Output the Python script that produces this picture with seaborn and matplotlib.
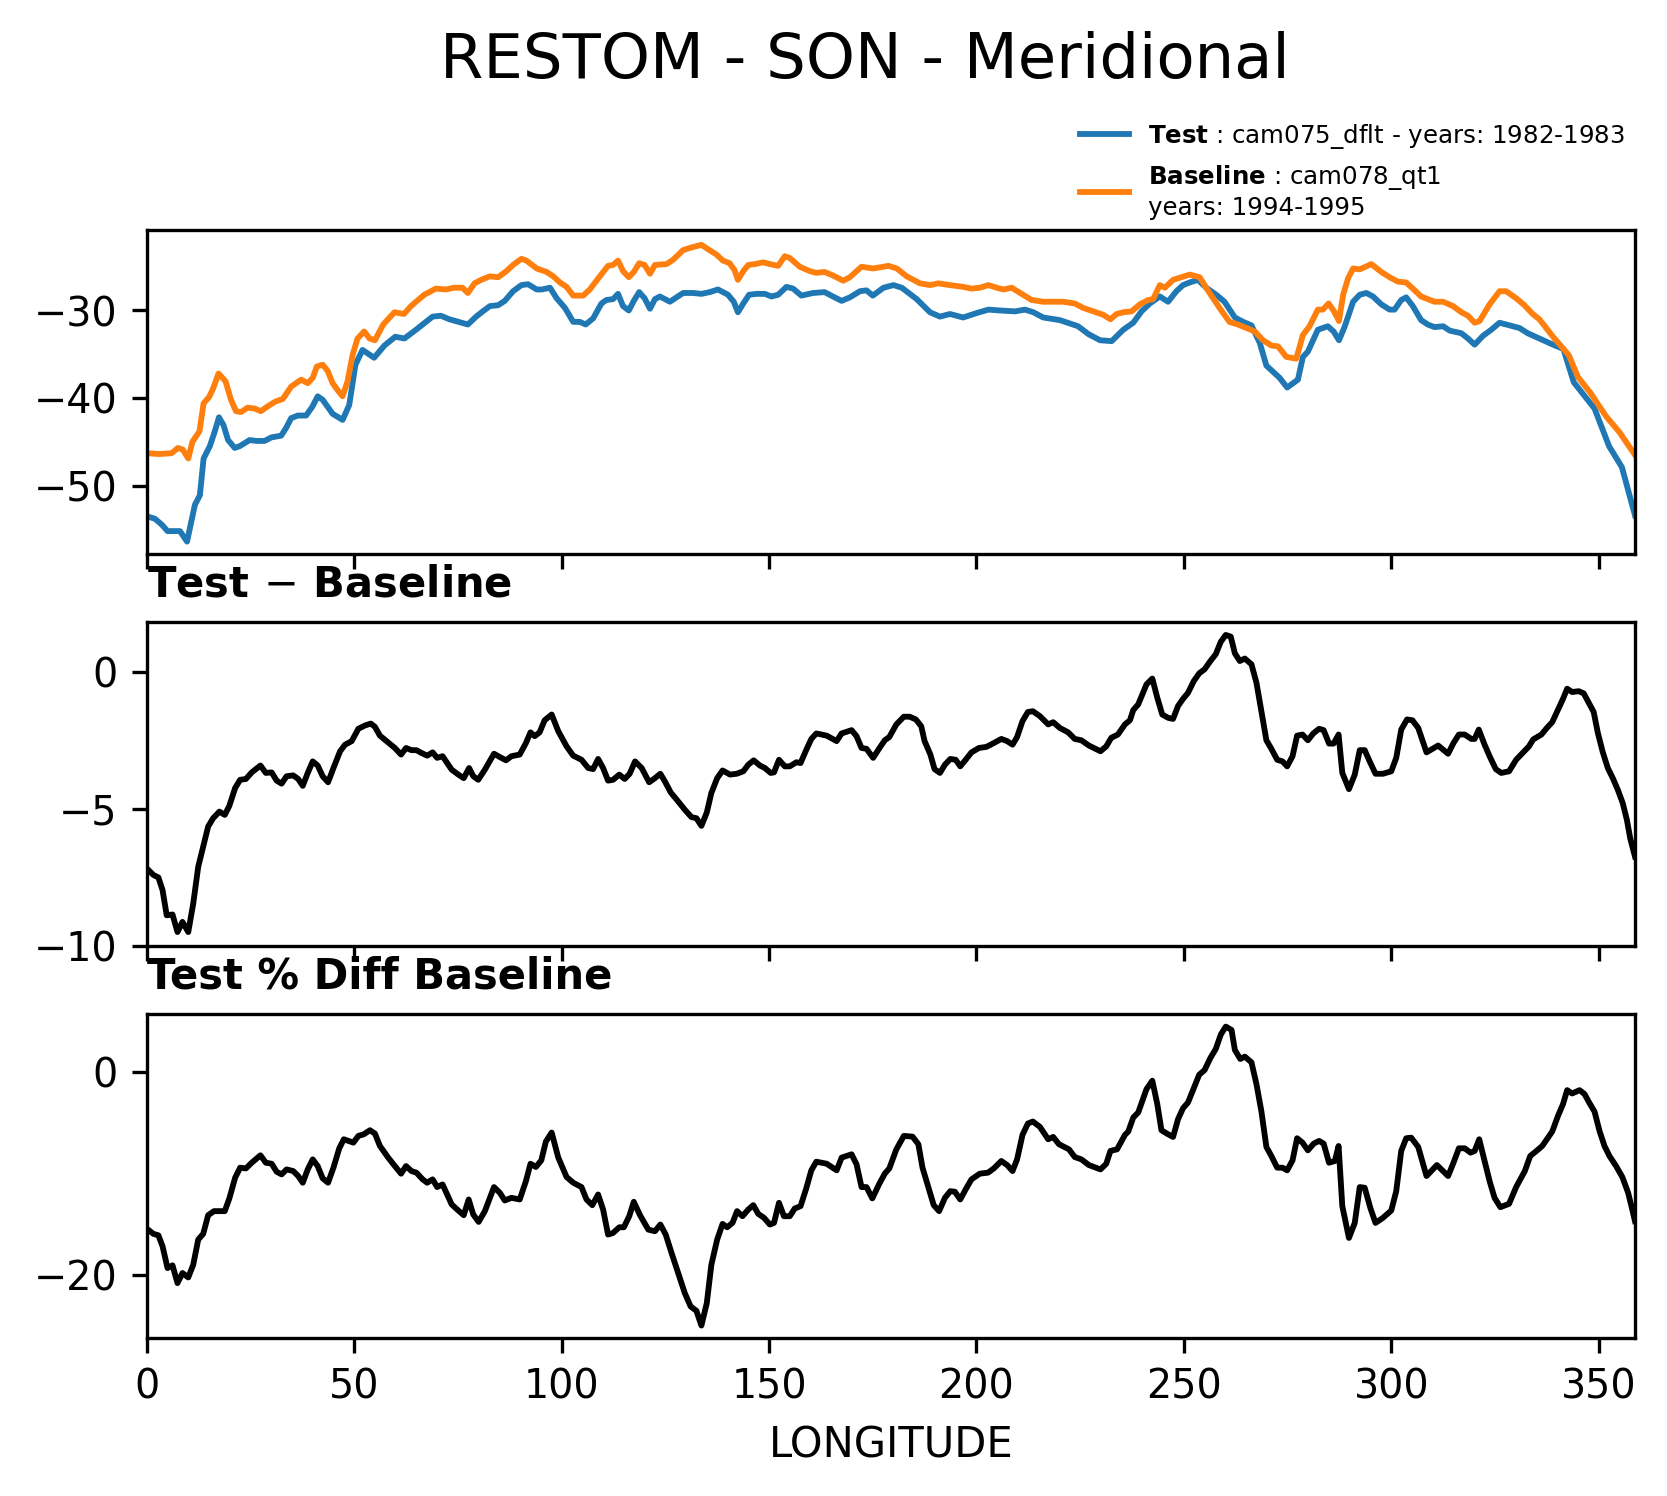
import numpy as np
import seaborn as sns
import matplotlib
matplotlib.use("Agg")
import matplotlib.pyplot as plt

# values (longitude in degrees east)
lon_test = [0, 2, 3.7, 5, 8, 9.7, 11.6, 12.8, 13.7, 15.2, 16.4, 17.4, 18.5, 19.6, 21.2, 22.4,
            24.8, 26.4, 28.4, 30, 32.4, 33.6, 34.8, 36.4, 38.4, 39.9, 41.2, 42.4, 44.8, 47.2,
            48.8, 50.3, 52, 54.8, 57.3, 59.9, 62.1, 64.9, 68.9, 70.9, 72.9, 77.4, 79.4, 81,
            82.7, 84.7, 86.3, 88.3, 90.3, 91.9, 94, 95.2, 97.2, 98.8, 100.8, 102.8, 104.4,
            105.8, 107.6, 109.6, 110.8, 112.4, 113.6, 114.8, 116.2, 117.4, 118.7, 120, 121.3,
            122.5, 123.7, 126.1, 127.7, 129.3, 131.7, 133.7, 135.7, 137.7, 140.1, 141.5, 142.5,
            143.8, 145.2, 147, 149, 150.6, 152.2, 154.2, 155.8, 157.8, 160.6, 163.4, 165.4,
            167.5, 169.5, 171.9, 173.5, 175, 177.6, 180, 182, 185.6, 188.8, 191.2, 193.6, 196.8,
            200, 202.9, 205.7, 209.3, 211.7, 213.7, 216.1, 220.1, 224.5, 227, 229.8, 232.6,
            235.4, 237.8, 239.8, 241.8, 244.2, 246.2, 248.2, 249.8, 251.4, 253.4, 255.4, 257.8,
            259.8, 262.3, 264.3, 266.3, 268.3, 269.9, 271.5, 273.1, 274.9, 277.5, 278.7, 279.9,
            282.3, 284.7, 286.1, 287.4, 288.8, 290.8, 292.4, 294, 295.6, 297.6, 299.6, 300.8,
            302.4, 303.6, 305.2, 307.2, 308.8, 310.4, 312.5, 314.1, 316.9, 318.5, 320.1, 322.1,
            324.1, 326.1, 328.5, 330.9, 332.9, 335.7, 338.5, 341.5, 344, 349, 352.5, 355.6,
            358.75]
test = [-53.5, -53.8, -54.5, -55.2, -55.2, -56.4, -52.2, -51.1, -46.9, -45.5, -43.8, -42.2,
        -43.1, -44.8, -45.7, -45.5, -44.8, -44.9, -44.9, -44.5, -44.3, -43.4, -42.3, -42.0,
        -42.0, -41.0, -39.8, -40.2, -41.8, -42.5, -40.8, -36.2, -34.5, -35.4, -34.0, -33.0,
        -33.2, -32.2, -30.7, -30.6, -31.0, -31.6, -30.7, -30.1, -29.5, -29.4, -28.9, -27.8,
        -27.1, -27.0, -27.6, -27.6, -27.4, -28.6, -29.7, -31.3, -31.3, -31.6, -30.9, -29.2,
        -28.8, -28.7, -28.1, -29.5, -30.0, -28.9, -27.9, -28.6, -29.8, -28.7, -28.4, -29.0,
        -28.5, -28.0, -28.0, -28.1, -27.9, -27.6, -28.2, -29.0, -30.2, -29.2, -28.2, -28.1,
        -28.1, -28.4, -28.2, -27.3, -27.5, -28.3, -28.0, -27.9, -28.4, -28.9, -28.5, -27.8,
        -27.7, -28.3, -27.4, -27.1, -27.4, -28.7, -30.2, -30.7, -30.4, -30.8, -30.3, -29.9,
        -30.0, -30.1, -29.9, -30.2, -30.8, -31.1, -31.8, -32.7, -33.4, -33.5, -32.2, -31.4,
        -30.1, -29.2, -28.4, -29.0, -27.8, -27.1, -26.8, -26.5, -27.4, -28.2, -29.0, -30.8,
        -31.3, -31.7, -33.7, -36.3, -37.0, -37.7, -38.8, -37.9, -35.3, -34.7, -32.2, -31.8,
        -32.4, -33.4, -31.8, -29.0, -28.2, -28.0, -28.4, -29.3, -29.9, -29.9, -28.8, -28.5,
        -29.5, -31.1, -31.6, -31.9, -31.8, -32.3, -32.6, -33.2, -33.9, -32.9, -32.2, -31.4,
        -31.7, -32.0, -32.6, -33.2, -33.8, -34.4, -38.2, -41.2, -45.5, -47.9, -53.4]

lon_base = [0, 3, 6, 7.5, 8.7, 10, 11, 12.7, 13.7, 15, 16, 17.3, 19, 20.3, 21.5, 22.7, 24.3,
            26, 27.5, 29, 31, 32.8, 34.8, 37.2, 38.8, 40, 41, 42.4, 43.6, 44.8, 46, 47.2, 48.4,
            49.6, 50.8, 52.4, 53.7, 55, 57, 59.7, 62, 63.7, 64.9, 66.9, 69.7, 72.1, 74.1, 76.1,
            77.4, 79, 80.6, 82.7, 84.7, 86.7, 88.3, 90.3, 91.5, 94, 96.4, 98, 99.6, 101.2,
            102.8, 105.2, 106.8, 109.2, 111.2, 112.4, 113.6, 114.8, 116.2, 117.4, 118.7, 120,
            121.3, 122.5, 125.3, 126.9, 129.3, 131.3, 133.7, 135.3, 137.3, 138.9, 140.5, 141.7,
            142.5, 143.8, 145, 146.6, 148.6, 150.2, 152.2, 153.8, 155, 157.4, 159.8, 161.4,
            163.4, 165.4, 167.9, 169.5, 172.3, 175.1, 178.8, 180.8, 183.2, 186.4, 188.8, 190.8,
            193.6, 196.8, 198.8, 200.8, 202.9, 204.9, 206.5, 208.5, 210.9, 213.3, 216.1, 218.1,
            220.9, 223.7, 225.7, 228.2, 230.6, 232.3, 233.8, 235.4, 237.4, 239.4, 241.4, 242.6,
            244.2, 245.4, 247.4, 249.4, 251.4, 253.8, 256.2, 258.6, 261, 263, 265.1, 267.1,
            269.1, 271.1, 272.7, 274.7, 277.1, 278.7, 280.3, 282.3, 283.5, 284.9, 286.2, 287.4,
            288.4, 289.6, 290.8, 292.4, 295.2, 297.6, 299.6, 301.6, 303.6, 305.2, 307.2, 310.4,
            312.5, 314.9, 316.9, 318.5, 320.1, 321.3, 323.7, 326.1, 327.7, 330.1, 332.1, 334.1,
            335.7, 339, 342.8, 345, 348, 351.8, 355, 358.75]
base = [-46.3, -46.4, -46.3, -45.7, -45.9, -46.9, -45.0, -43.8, -40.6, -39.9, -38.9, -37.2,
        -38.1, -40.2, -41.5, -41.6, -41.1, -41.2, -41.5, -41.0, -40.4, -40.1, -38.7, -37.9,
        -38.3, -37.7, -36.4, -36.2, -36.9, -38.3, -39.1, -39.8, -38.1, -35.1, -33.2, -32.4,
        -33.2, -33.4, -31.6, -30.2, -30.4, -29.5, -29.0, -28.2, -27.5, -27.6, -27.4, -27.4,
        -28.0, -26.9, -26.5, -26.1, -26.2, -25.5, -24.8, -24.1, -24.3, -25.2, -25.6, -26.1,
        -26.8, -27.3, -28.3, -28.3, -27.6, -26.1, -24.9, -24.8, -24.3, -25.5, -26.2, -25.6,
        -24.6, -24.8, -25.8, -24.8, -24.7, -24.2, -23.1, -22.8, -22.5, -23.0, -23.6, -24.3,
        -24.6, -25.4, -26.5, -25.5, -24.8, -24.7, -24.5, -24.7, -24.9, -23.8, -24.0, -25.0,
        -25.5, -25.7, -25.6, -26.0, -26.6, -26.2, -25.0, -25.2, -24.9, -25.2, -26.1, -26.9,
        -27.1, -26.9, -27.1, -27.3, -27.5, -27.4, -27.1, -27.4, -27.6, -27.4, -28.1, -28.8,
        -29.0, -29.0, -29.0, -29.2, -29.7, -30.1, -30.5, -31.0, -30.4, -30.2, -30.1, -29.3,
        -28.8, -28.7, -27.1, -27.4, -26.5, -26.2, -25.9, -26.2, -28.0, -29.7, -31.3, -31.6,
        -32.0, -32.4, -33.4, -34.0, -34.1, -35.3, -35.5, -32.8, -31.8, -29.9, -29.9, -29.2,
        -30.1, -31.2, -28.2, -26.3, -25.2, -25.3, -24.7, -25.6, -26.2, -26.7, -26.8, -27.5,
        -28.4, -29.0, -29.0, -29.5, -30.2, -30.6, -31.4, -31.2, -29.3, -27.8, -27.8, -28.6,
        -29.4, -30.4, -31.0, -33.0, -35.1, -37.6, -39.4, -42.1, -43.9, -46.5]

lon_diff = [0, 1.6, 2.8, 3.8, 4.8, 6.2, 7.4, 8.6, 10.0, 11.2, 12.4, 13.6, 14.8, 16.0, 17.5,
            18.8, 19.9, 21.3, 22.5, 23.9, 25.3, 27.4, 28.7, 30.1, 31.3, 32.5, 33.7, 35.3, 36.5,
            37.6, 38.8, 40.0, 41.2, 42.4, 43.7, 45.0, 46.6, 47.8, 49.4, 51.0, 52.6, 54.0, 55.0,
            56.2, 57.8, 59.8, 61.3, 62.5, 63.8, 65.0, 66.2, 67.6, 68.9, 70.0, 71.3, 73.5, 75.1,
            76.4, 77.7, 78.7, 79.9, 81.5, 83.7, 85.1, 86.6, 87.9, 89.9, 91.4, 92.5, 93.5, 94.7,
            95.9, 97.6, 99.2, 101.2, 102.8, 104.8, 106.4, 107.6, 108.8, 110.0, 111.2, 112.4,
            113.9, 115.2, 116.4, 117.7, 119.3, 121.1, 122.5, 123.8, 124.9, 126.3, 128.1, 129.7,
            131.3, 132.5, 133.7, 135.0, 136.1, 137.5, 138.8, 140.6, 142.2, 143.8, 145.0, 146.3,
            147.8, 149.0, 150.4, 151.2, 152.4, 153.8, 155.0, 156.6, 157.6, 159.0, 160.2, 161.4,
            163.9, 166.3, 167.5, 169.9, 171.1, 172.3, 173.5, 175.1, 176.5, 177.9, 179.0, 180.7,
            182.5, 183.9, 185.4, 186.7, 187.5, 188.9, 189.9, 191.2, 192.4, 193.7, 195.0, 196.1,
            197.4, 198.8, 200.6, 202.4, 204.2, 206.0, 207.4, 208.7, 209.8, 211.1, 212.4, 213.6,
            215.3, 217.3, 218.5, 220.1, 222.1, 223.7, 225.3, 227.1, 229.9, 231.3, 232.5, 234.1,
            235.8, 237.0, 237.8, 239.0, 241.0, 242.4, 243.6, 244.8, 246.2, 247.4, 248.6, 249.8,
            251.0, 252.4, 253.7, 255.0, 256.4, 257.7, 258.9, 260.1, 261.3, 262.3, 263.5, 264.7,
            266.3, 267.5, 268.7, 269.9, 271.1, 272.5, 273.8, 274.9, 276.2, 277.3, 278.6, 279.9,
            281.2, 282.6, 283.7, 285.0, 286.1, 287.3, 288.2, 289.8, 291.2, 292.4, 293.6, 294.8,
            296.2, 298.0, 300.0, 301.2, 302.4, 303.8, 305.1, 306.5, 308.5, 311.3, 313.7, 315.0,
            316.3, 317.7, 319.3, 320.1, 321.1, 322.5, 323.7, 325.2, 326.5, 328.4, 330.1, 331.8,
            333.2, 334.2, 336.2, 337.5, 338.8, 340.2, 341.4, 342.4, 343.6, 345.2, 346.4, 347.7,
            348.8, 349.8, 351.0, 352.2, 353.4, 354.6, 355.8, 356.8, 357.6, 358.75]
diff = [-7.16, -7.40, -7.49, -7.95, -8.87, -8.84, -9.48, -9.11, -9.48, -8.44, -7.10, -6.37,
        -5.63, -5.33, -5.09, -5.21, -4.88, -4.23, -3.93, -3.90, -3.66, -3.41, -3.68, -3.66,
        -3.96, -4.07, -3.80, -3.77, -3.90, -4.15, -3.68, -3.26, -3.41, -3.80, -4.02, -3.50,
        -2.89, -2.65, -2.52, -2.07, -1.95, -1.88, -2.00, -2.32, -2.52, -2.77, -3.01, -2.77,
        -2.85, -2.85, -2.95, -3.05, -2.93, -3.13, -3.07, -3.56, -3.74, -3.87, -3.50, -3.80,
        -3.93, -3.56, -2.98, -3.10, -3.22, -3.07, -3.01, -2.59, -2.20, -2.34, -2.20, -1.76,
        -1.55, -2.16, -2.71, -3.05, -3.20, -3.50, -3.54, -3.17, -3.50, -3.96, -3.93, -3.74,
        -3.90, -3.71, -3.26, -3.50, -4.02, -3.87, -3.71, -3.99, -4.39, -4.72, -5.02, -5.29,
        -5.33, -5.61, -5.12, -4.41, -3.87, -3.59, -3.74, -3.71, -3.62, -3.38, -3.22, -3.41,
        -3.50, -3.68, -3.66, -3.20, -3.44, -3.44, -3.29, -3.32, -2.83, -2.44, -2.24, -2.32,
        -2.52, -2.24, -2.12, -2.34, -2.77, -2.80, -3.13, -2.80, -2.49, -2.37, -1.91, -1.63,
        -1.63, -1.73, -1.98, -2.52, -3.01, -3.54, -3.68, -3.38, -3.17, -3.20, -3.44, -3.20,
        -2.93, -2.77, -2.73, -2.59, -2.44, -2.52, -2.65, -2.37, -1.79, -1.46, -1.43, -1.61,
        -1.91, -1.83, -2.04, -2.20, -2.44, -2.49, -2.68, -2.89, -2.71, -2.40, -2.28, -1.91,
        -1.76, -1.39, -1.18, -0.45, -0.24, -0.94, -1.55, -1.67, -1.71, -1.24, -0.98, -0.76,
        -0.33, -0.05, 0.10, 0.40, 0.65, 1.10, 1.35, 1.29, 0.68, 0.40, 0.49, 0.28, -0.39,
        -1.43, -2.49, -2.80, -3.20, -3.26, -3.44, -3.07, -2.32, -2.28, -2.49, -2.24, -2.07,
        -2.12, -2.61, -2.61, -2.28, -3.68, -4.27, -3.74, -2.85, -2.85, -3.26, -3.71, -3.71,
        -3.62, -3.13, -2.10, -1.73, -1.76, -2.04, -2.93, -2.68, -2.98, -2.59, -2.28, -2.28,
        -2.44, -2.44, -2.10, -2.65, -3.07, -3.54, -3.68, -3.62, -3.20, -2.93, -2.71, -2.46,
        -2.28, -2.04, -1.83, -1.37, -0.98, -0.61, -0.73, -0.70, -0.78, -1.15, -1.46, -2.22,
        -2.93, -3.50, -3.87, -4.29, -4.78, -5.39, -6.06, -6.73]

lon_pct = [0, 1.6, 2.8, 3.8, 5.0, 6.2, 7.4, 8.6, 10.0, 11.2, 12.4, 13.6, 14.8, 16.2, 18.8,
           19.9, 21.3, 22.5, 23.9, 25.3, 27.4, 28.7, 30.1, 31.3, 32.5, 33.7, 35.3, 36.5, 37.6,
           38.8, 40.0, 41.2, 42.4, 43.7, 45.0, 46.4, 47.5, 49.8, 51.0, 52.3, 53.8, 55.0, 56.2,
           58.2, 59.8, 61.3, 62.5, 63.8, 65.0, 66.5, 67.6, 68.9, 70.0, 71.3, 73.5, 75.1, 76.4,
           77.6, 78.7, 80.0, 81.5, 83.7, 85.1, 86.3, 87.9, 89.9, 91.4, 92.5, 93.8, 95.1, 96.2,
           97.6, 99.2, 101.2, 102.8, 104.8, 106.0, 107.4, 108.8, 110.0, 111.2, 112.4, 113.9,
           115.0, 116.3, 117.4, 118.9, 120.9, 122.5, 123.8, 125.1, 126.5, 128.5, 129.7, 131.1,
           132.5, 133.7, 135.0, 136.1, 137.5, 138.8, 139.9, 141.2, 142.3, 143.6, 145.0, 146.2,
           147.4, 148.8, 150.2, 151.2, 152.4, 153.6, 155.0, 156.2, 157.6, 158.9, 160.2, 161.4,
           163.9, 166.3, 167.5, 169.9, 171.1, 172.3, 173.5, 174.9, 176.5, 177.9, 179.0, 180.7,
           182.5, 184.6, 186.0, 187.0, 188.2, 189.7, 191.0, 192.4, 193.7, 194.8, 196.1, 197.4,
           198.8, 200.8, 202.8, 204.2, 206.0, 207.4, 208.7, 209.8, 211.1, 212.4, 213.6, 215.3,
           217.3, 218.5, 219.9, 222.3, 223.7, 225.3, 227.1, 229.9, 231.3, 232.3, 233.9, 235.8,
           236.6, 237.8, 239.0, 241.0, 242.4, 243.6, 244.6, 246.2, 247.4, 248.6, 249.8, 251.0,
           252.4, 253.7, 255.0, 256.4, 257.7, 258.9, 260.1, 261.5, 262.3, 263.6, 264.7, 266.3,
           267.5, 268.7, 269.9, 271.1, 272.5, 273.8, 274.9, 276.2, 277.3, 278.6, 279.9, 281.3,
           282.6, 283.7, 285.0, 286.4, 287.3, 288.2, 289.8, 291.2, 292.4, 293.6, 295.0, 296.2,
           298.0, 300.0, 301.2, 302.4, 303.6, 304.8, 306.5, 308.5, 311.0, 313.7, 315.0, 316.3,
           317.7, 319.1, 320.1, 321.2, 322.5, 323.7, 324.9, 326.3, 328.4, 330.1, 332.2, 333.5,
           334.8, 336.4, 338.8, 340.2, 341.4, 342.4, 343.6, 345.4, 346.6, 347.7, 349.0, 350.2,
           351.4, 352.6, 354.2, 355.7, 357.1, 357.9, 358.75]
pct = [-15.39, -15.91, -16.05, -17.13, -19.28, -19.01, -20.76, -19.77, -20.20, -18.95, -16.47,
       -15.91, -14.07, -13.67, -13.67, -12.42, -10.38, -9.39, -9.46, -8.90, -8.17, -8.90, -9.00,
       -9.79, -10.05, -9.56, -9.72, -10.21, -10.87, -9.56, -8.57, -9.23, -10.44, -10.87, -9.39,
       -7.48, -6.59, -6.92, -6.26, -6.10, -5.70, -6.03, -7.25, -8.40, -9.23, -9.98, -9.23, -9.72,
       -9.88, -10.54, -10.87, -10.54, -11.30, -11.04, -13.01, -13.61, -14.07, -12.52, -14.00,
       -14.73, -13.67, -11.30, -11.86, -12.62, -12.36, -12.52, -10.71, -9.00, -9.32, -8.67,
       -6.82, -5.93, -8.40, -10.31, -10.87, -11.30, -12.52, -13.08, -12.03, -13.51, -15.98,
       -15.82, -15.26, -15.26, -14.17, -12.75, -14.07, -15.49, -15.65, -14.99, -15.98, -17.79,
       -20.26, -21.75, -23.06, -23.49, -24.94, -22.73, -18.95, -16.47, -14.93, -15.26, -14.83,
       -13.67, -14.17, -13.51, -13.08, -13.94, -14.33, -14.99, -14.83, -12.85, -14.17, -14.17,
       -13.41, -13.18, -11.53, -9.65, -8.80, -9.00, -9.65, -8.40, -8.07, -9.06, -11.30, -11.30,
       -12.42, -11.04, -9.98, -9.46, -7.58, -6.26, -6.33, -7.08, -9.39, -11.04, -13.08, -13.67,
       -12.36, -11.70, -11.76, -12.52, -11.53, -10.54, -9.98, -9.88, -9.46, -8.73, -9.13, -9.72,
       -8.57, -6.16, -5.04, -4.84, -5.37, -6.59, -6.36, -7.08, -7.58, -8.34, -8.57, -9.13,
       -9.56, -9.00, -7.74, -7.58, -6.16, -5.83, -4.45, -3.95, -1.65, -0.82, -3.13, -5.70,
       -6.10, -6.36, -4.61, -3.53, -2.97, -1.55, -0.23, 0.23, 1.42, 2.31, 3.72, 4.51, 4.18,
       2.21, 1.32, 1.55, 0.99, -1.15, -3.86, -7.35, -8.24, -9.39, -9.39, -9.65, -8.67, -6.49,
       -6.92, -7.68, -7.02, -6.75, -7.02, -8.90, -8.73, -7.25, -13.18, -16.31, -14.83, -11.30,
       -11.37, -13.41, -14.83, -14.33, -13.61, -11.70, -7.74, -6.49, -6.43, -7.35, -10.21,
       -9.13, -10.21, -8.90, -7.48, -7.48, -7.91, -7.74, -6.59, -8.73, -10.71, -12.36, -13.28,
       -12.95, -11.30, -9.72, -8.24, -7.81, -7.25, -5.83, -4.28, -3.13, -1.75, -2.08, -1.75,
       -2.14, -2.97, -3.86, -5.77, -7.25, -8.24, -9.23, -10.31, -11.86, -13.18, -14.66]

test_label = r"$\mathbf{Test}$ : cam075_dflt - years: 1982-1983"
base_label = r"$\mathbf{Baseline}$ : cam078_qt1" + "\n" + "years: 1994-1995"

plt.rcParams["font.size"] = 9.5

fig, axes = plt.subplots(3, 1, figsize=(5.56, 4.9867), dpi=300, sharex=True)
fig.subplots_adjust(left=0.088, right=0.9802, top=0.8464, bottom=0.1054, hspace=0.208)

# top: both cases
ax = axes[0]
sns.lineplot(x=lon_test, y=test, ax=ax, color="#1f77b4", lw=1.4, label=test_label)
sns.lineplot(x=lon_base, y=base, ax=ax, color="#ff7f0e", lw=1.4, label=base_label)
ax.set_ylim(-57.85, -20.78)
ax.set_yticks([-50, -40, -30])
ax.legend(loc="lower right", bbox_to_anchor=(1.0, 1.0), borderaxespad=0,
          frameon=False, fontsize=5.9)

# middle: difference
ax = axes[1]
sns.lineplot(x=lon_diff, y=diff, ax=ax, color="black", lw=1.4)
ax.set_ylim(-10.0, 1.83)
ax.set_yticks([-10, -5, 0])
ax.set_title(r"Test$\,-\,$Baseline", loc="left", fontweight="bold", fontsize=10)

# bottom: percent difference
ax = axes[2]
sns.lineplot(x=lon_pct, y=pct, ax=ax, color="black", lw=1.4)
ax.set_ylim(-26.2, 5.77)
ax.set_yticks([-20, 0])
ax.set_title("Test % Diff Baseline", loc="left", fontweight="bold", fontsize=10)

for ax in axes:
    ax.set_xlim(0, 358.75)
    ax.set_xticks(np.arange(0, 351, 50))
    ax.set_ylabel("")
axes[2].set_xlabel("LONGITUDE", fontsize=10)

fig.suptitle("RESTOM - SON - Meridional", fontsize=15, x=0.5188, y=0.9595, va="center")

fig.savefig("out.png", dpi=300)
